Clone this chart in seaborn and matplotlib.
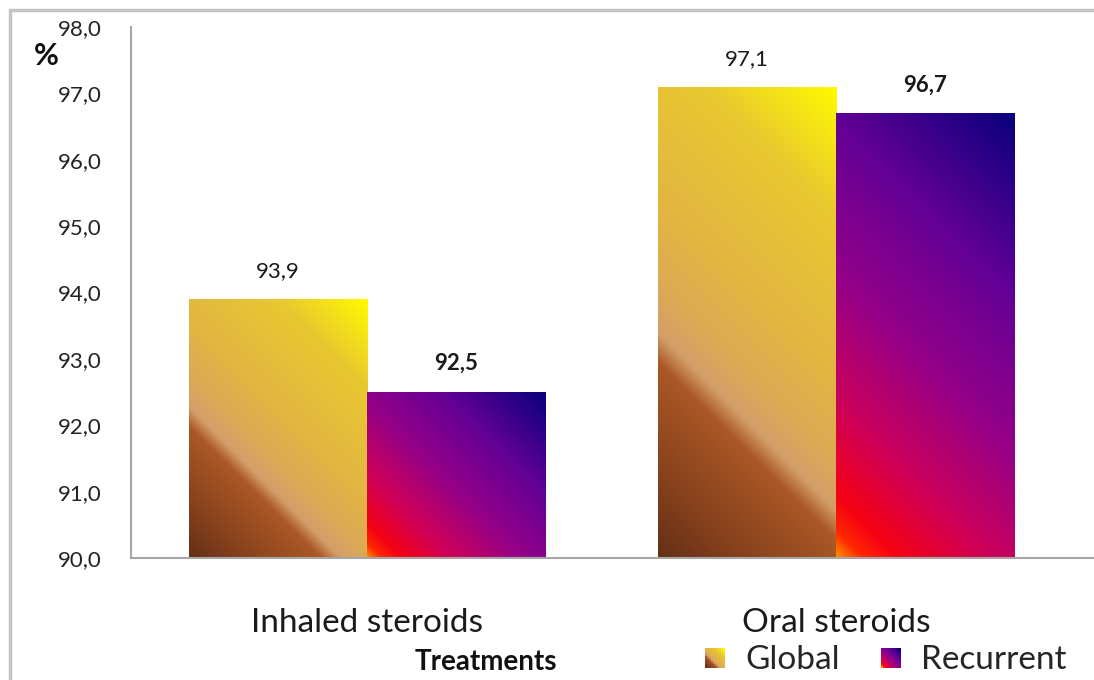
import numpy as np
import pandas as pd
import matplotlib
matplotlib.use("Agg")
import matplotlib.pyplot as plt
import seaborn as sns
from matplotlib.colors import LinearSegmentedColormap
from matplotlib.patches import Rectangle
from matplotlib.legend_handler import HandlerBase

# data
categories = ["Inhaled steroids", "Oral steroids"]
series = ["Global", "Recurrent"]
global_vals = [93.9, 97.1]
recurrent_vals = [92.5, 96.7]
y_ticks = [90, 91, 92, 93, 94, 95, 96, 97, 98]

df = pd.DataFrame({
    "treatment": categories * 2,
    "group": [series[0]] * len(categories) + [series[1]] * len(categories),
    "value": global_vals + recurrent_vals,
})


def rgb(r, g, b):
    return (r / 255, g / 255, b / 255)


# diagonal gradients, bottom-left corner -> top-right corner of each bar
global_cmap = LinearSegmentedColormap.from_list("glob", [
    (0.00, rgb(100, 48, 22)),
    (0.15, rgb(140, 68, 30)),
    (0.30, rgb(170, 88, 38)),
    (0.345, rgb(212, 158, 105)),
    (0.42, rgb(220, 170, 85)),
    (0.55, rgb(226, 182, 65)),
    (0.80, rgb(233, 200, 48)),
    (1.00, rgb(255, 250, 0)),
])
recur_cmap = LinearSegmentedColormap.from_list("rec", [
    (0.00, rgb(255, 140, 0)),
    (0.04, rgb(255, 40, 0)),
    (0.10, rgb(245, 0, 20)),
    (0.25, rgb(205, 0, 90)),
    (0.45, rgb(150, 0, 135)),
    (0.70, rgb(100, 0, 150)),
    (1.00, rgb(10, 0, 125)),
])
cmaps = {"Global": global_cmap, "Recurrent": recur_cmap}


def diag_grad(w_px, h_px, n=200):
    u = np.linspace(0, 1, n)[None, :] * w_px
    v = np.linspace(0, 1, n)[:, None] * h_px
    return (u + v) / (w_px + h_px)


class GradientHandler(HandlerBase):
    def __init__(self, cmap, n=10):
        super().__init__()
        self.cmap = cmap
        self.n = n

    def create_artists(self, legend, orig_handle, xdescent, ydescent,
                       width, height, fontsize, trans):
        side = min(width, height)
        x0 = xdescent + width - side
        t = diag_grad(1, 1, self.n)
        step = side / self.n
        arts = []
        for i in range(self.n):
            for j in range(self.n):
                arts.append(Rectangle((x0 + j * step, -ydescent + i * step), step * 1.05, step * 1.05,
                                      facecolor=self.cmap(t[i, j]), edgecolor="none",
                                      transform=trans))
        return arts


sns.set_style("white")
plt.rcParams["font.family"] = ["Lato", "DejaVu Sans"]

fig = plt.figure(figsize=(10.94, 6.80), dpi=100)
ax = fig.add_axes([131 / 1094, 1 - 558 / 680, (1094 - 131) / 1094, (558 - 27) / 680])

sns.barplot(data=df, x="treatment", y="value", hue="group", hue_order=series,
            palette=["#e0b040", "#800080"], width=0.76, gap=0, legend=False, ax=ax)

ax.set_ylim(90, 98)
ax.set_xlim(-0.503, 1.55)

fig.canvas.draw()
to_px = ax.transData
for name, cont in zip(series, ax.containers):
    for bar, val in zip(cont.patches, cont.datavalues):
        x0, y0 = bar.get_x(), 90
        x1, y1 = bar.get_x() + bar.get_width(), bar.get_y() + bar.get_height()
        p0 = to_px.transform((x0, y0))
        p1 = to_px.transform((x1, y1))
        t = diag_grad(p1[0] - p0[0], p1[1] - p0[1])
        im = ax.imshow(t, cmap=cmaps[name], vmin=0, vmax=1, origin="lower",
                       extent=[x0, x1, y0, y1], aspect="auto", zorder=2,
                       interpolation="bilinear")
        im.set_clip_path(bar)
        bar.set_facecolor("none")
        bar.set_edgecolor("none")
        ax.annotate(f"{val:.1f}".replace(".", ","), (bar.get_x() + bar.get_width() / 2, y1),
                    xytext=(0, 13), textcoords="offset points", ha="center", va="bottom",
                    fontsize=16, color="#1a1a1a",
                    fontweight="bold" if name == "Recurrent" else "normal")

ax.set_yticks(y_ticks)
ax.set_yticklabels([f"{v:.1f}".replace(".", ",") for v in y_ticks], fontsize=16, color="#222222")
ax.tick_params(axis="y", length=0, pad=21)
ax.tick_params(axis="x", length=0, pad=36, labelsize=24, labelcolor="#1a1a1a")
ax.set_xlabel("")
ax.set_ylabel("")
for s in ["top", "right"]:
    ax.spines[s].set_visible(False)
ax.spines["left"].set_color("#a6a6a6")
ax.spines["bottom"].set_color("#a6a6a6")
ax.spines["left"].set_linewidth(1.5)
ax.spines["bottom"].set_linewidth(1.5)

# outer frame
fig.patches.append(Rectangle((10 / 1094, -0.2), 1.2, 1.2 - 10 / 680, transform=fig.transFigure,
                             fill=False, edgecolor="#c4c4c4", linewidth=2.5))

fig.text(46 / 1094, 1 - 56 / 680, "%", fontsize=22, fontweight="bold", ha="center", va="center",
         color="#111111")
fig.text(486 / 1094, 1 - 662 / 680, "Treatments", fontsize=20, fontweight="bold", ha="center",
         va="center", color="#111111")

handles = [Rectangle((0, 0), 1, 1), Rectangle((0, 0), 1, 1)]
fig.legend(handles, series, loc="center left", bbox_to_anchor=(705 / 1094, 1 - 660 / 680),
           ncol=2, frameon=False, fontsize=24, handlelength=0.6, handleheight=0.6,
           handletextpad=0.6, columnspacing=1.25, borderaxespad=0, borderpad=0,
           handler_map={handles[0]: GradientHandler(global_cmap), handles[1]: GradientHandler(recur_cmap)})

fig.savefig("out.png", dpi=100)
